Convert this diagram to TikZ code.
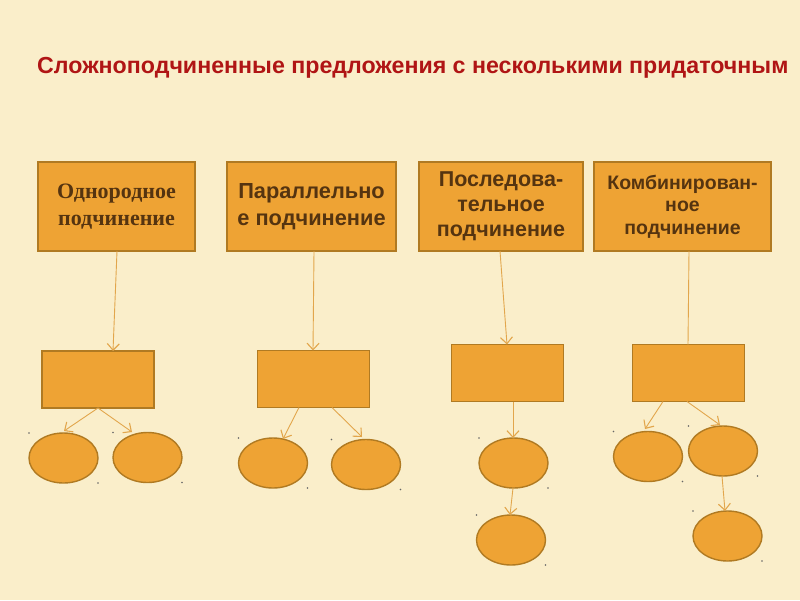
\documentclass[tikz,border=0pt]{standalone}
\usepackage{fontspec}
\setmainfont{Liberation Sans}
\newfontfamily\serifbf{Liberation Serif}
\usetikzlibrary{arrows.meta,shapes.geometric}
\definecolor{bgc}{HTML}{FAEECA}
\definecolor{boxfill}{HTML}{EEA334}
\definecolor{boxline}{HTML}{B07A22}
\definecolor{txtc}{HTML}{553410}
\definecolor{titlec}{HTML}{B01515}
\definecolor{arrc}{HTML}{E2A64C}
\tikzset{
  topbox/.style={draw=boxline, fill=boxfill, line width=1.6pt, inner sep=0pt, outer sep=0pt, text=txtc, align=center},
  midbox/.style={draw=boxline, fill=boxfill, line width=1.6pt, inner sep=0pt, outer sep=0pt, minimum width=112pt, minimum height=57pt},
  oval/.style={draw=boxline, fill=boxfill, line width=1.4pt, ellipse, inner sep=0pt, outer sep=0pt, minimum width=69pt, minimum height=50pt},
  arr/.style={draw=arrc, line width=0.9pt, -{Straight Barb[length=6.5pt,width=12pt,line width=1.1pt]}},
  plainln/.style={draw=arrc, line width=0.9pt},
  handle/.style={fill=black!60, draw=none, circle, inner sep=0pt, minimum size=1.6pt}
}
\begin{document}
\begin{tikzpicture}[x=1pt,y=-1pt]
\useasboundingbox (0,0) rectangle (800,600);
\fill[bgc] (0,0) rectangle (800,600);

\node[anchor=base west, text=titlec, font=\bfseries\fontsize{23.2}{27}\selectfont, inner sep=0pt] (title) at (37,73) {Сложноподчиненные предложения с несколькими придаточным};

% top boxes
\node[topbox, minimum width=157pt, minimum height=89pt, font=\serifbf\bfseries\fontsize{22}{27}\selectfont] (b1) at (116.5,206.5) {Однородное\\подчинение};
\node[topbox, minimum width=169pt, minimum height=89pt, font=\bfseries\fontsize{21.8}{27}\selectfont] (b2) at (311.5,206.5) {Параллельно\\е подчинение};
\node[topbox, minimum width=164pt, minimum height=89pt, font=\bfseries\fontsize{21.5}{25}\selectfont] (b3) at (501,206.5) {Последова-\\тельное\\подчинение};
\node[topbox, minimum width=177pt, minimum height=89pt, font=\bfseries\fontsize{19.5}{22.5}\selectfont] (b4) at (682.5,206.5) {Комбинирован-\\ное\\подчинение};

% middle boxes
\node[midbox] (m1) at (98,379.5) {};
\node[midbox] (m2) at (313.5,379) {};
\node[midbox] (m3) at (507.5,373) {};
\node[midbox] (m4) at (688.5,373) {};

% ovals
\node[oval] (e1a) at (63.5,458) {};
\node[oval] (e1b) at (147.5,457.5) {};
\node[oval] (e2a) at (273,463) {};
\node[oval] (e2b) at (366,464.5) {};
\node[oval] (e3a) at (513.5,463) {};
\node[oval] (e3b) at (511,540) {};
\node[oval] (e4a) at (648,456.5) {};
\node[oval] (e4b) at (723,451) {};
\node[oval] (e4c) at (727.5,536) {};

% handle dots
\foreach \n in {e1a,e1b,e2a,e2b,e3a,e3b,e4a,e4b,e4c}{
  \node[handle] at ([shift={(-34.5,-25)}]\n.center) {};
  \node[handle] at ([shift={(34.5,25)}]\n.center) {};
}

% connectors
\draw[arr] (b1.south -| 117,0) -- (m1.north -| 113,0);
\draw[arr] (b2.south -| 314,0) -- (m2.north -| 313,0);
\draw[arr] (b3.south -| 500,0) -- (m3.north -| 507,0);
\draw[plainln] (b4.south -| 689,0) -- (m4.north -| 688,0);

\coordinate (t1a) at (64,431);
\coordinate (t1b) at (132,432);
\draw[arr] (m1.south) -- (t1a);
\draw[arr] (m1.south) -- (t1b);
\coordinate (t2a) at (283,439);
\coordinate (t2b) at (362,437);
\draw[arr] (m2.south -| 299,0) -- (t2a);
\draw[arr] (m2.south -| 332,0) -- (t2b);
\draw[arr] (m3.south -| 513,0) -- (e3a.north -| 513,0);
\draw[arr] (e3a.south -| 513,0) -- (e3b.north -| 510,0);
\coordinate (t4a) at (645,429);
\coordinate (t4b) at (720,425);
\draw[arr] (m4.south -| 663,0) -- (t4a);
\draw[arr] (m4.south -| 687,0) -- (t4b);
\draw[arr] (e4b.south -| 722,0) -- (e4c.north -| 725,0);
\end{tikzpicture}
\end{document}
